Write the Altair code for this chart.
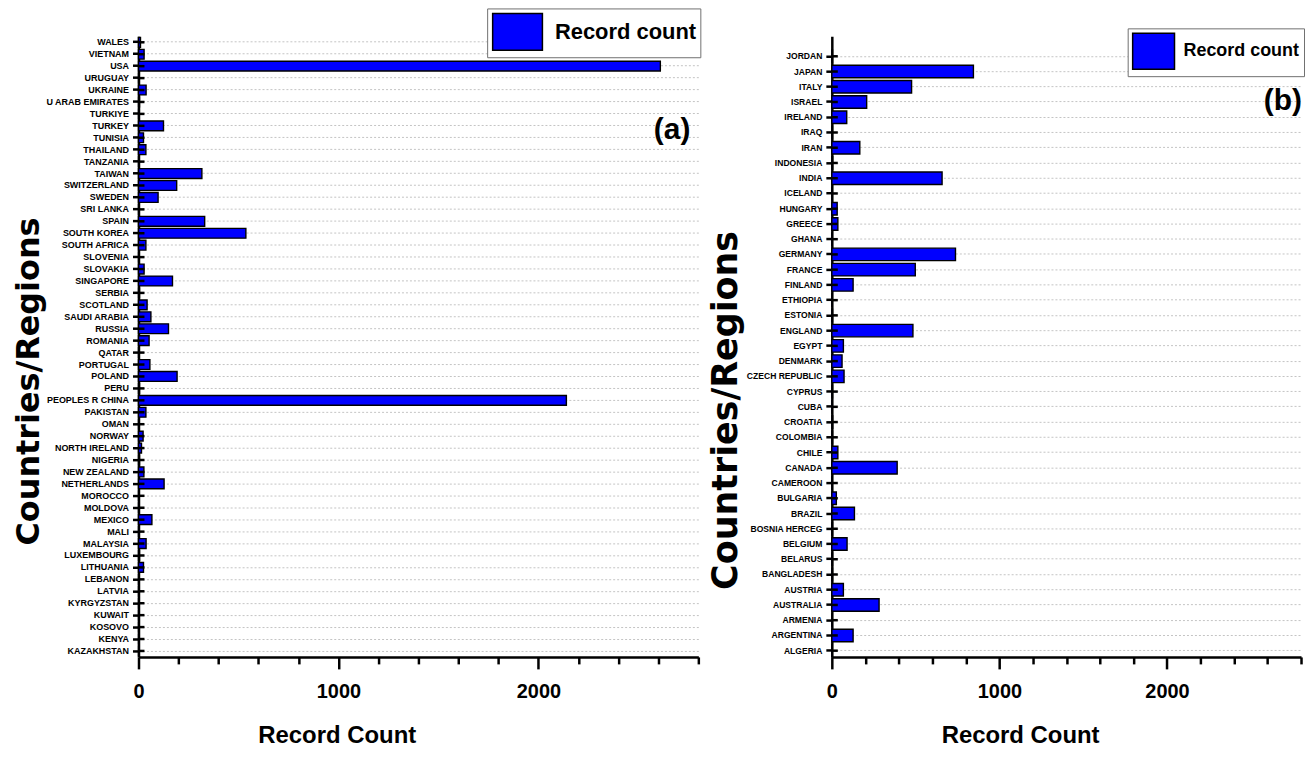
import altair as alt
import pandas as pd

SERIES = "Record count"

COUNTRIES_A = ["WALES", "VIETNAM", "USA", "URUGUAY", "UKRAINE", "U ARAB EMIRATES", "TURKIYE",
               "TURKEY", "TUNISIA", "THAILAND", "TANZANIA", "TAIWAN", "SWITZERLAND", "SWEDEN",
               "SRI LANKA", "SPAIN", "SOUTH KOREA", "SOUTH AFRICA", "SLOVENIA", "SLOVAKIA",
               "SINGAPORE", "SERBIA", "SCOTLAND", "SAUDI ARABIA", "RUSSIA", "ROMANIA", "QATAR",
               "PORTUGAL", "POLAND", "PERU", "PEOPLES R CHINA", "PAKISTAN", "OMAN", "NORWAY",
               "NORTH IRELAND", "NIGERIA", "NEW ZEALAND", "NETHERLANDS", "MOROCCO", "MOLDOVA",
               "MEXICO", "MALI", "MALAYSIA", "LUXEMBOURG", "LITHUANIA", "LEBANON", "LATVIA",
               "KYRGYZSTAN", "KUWAIT", "KOSOVO", "KENYA", "KAZAKHSTAN"]
COUNTS_A = [10, 28, 2610, 2, 38, 5, 3, 125, 25, 37, 2, 317, 191, 98, 3, 331, 537, 37, 4, 28,
            170, 5, 43, 62, 150, 53, 4, 57, 193, 5, 2140, 37, 4, 23, 15, 5, 27, 128, 4, 3,
            67, 3, 38, 5, 25, 4, 4, 2, 3, 2, 3, 3]

COUNTRIES_B = ["JORDAN", "JAPAN", "ITALY", "ISRAEL", "IRELAND", "IRAQ", "IRAN", "INDONESIA",
               "INDIA", "ICELAND", "HUNGARY", "GREECE", "GHANA", "GERMANY", "FRANCE", "FINLAND",
               "ETHIOPIA", "ESTONIA", "ENGLAND", "EGYPT", "DENMARK", "CZECH REPUBLIC", "CYPRUS",
               "CUBA", "CROATIA", "COLOMBIA", "CHILE", "CANADA", "CAMEROON", "BULGARIA", "BRAZIL",
               "BOSNIA HERCEG", "BELGIUM", "BELARUS", "BANGLADESH", "AUSTRIA", "AUSTRALIA",
               "ARMENIA", "ARGENTINA", "ALGERIA"]
COUNTS_B = [4, 845, 476, 208, 89, 4, 167, 5, 658, 3, 32, 36, 3, 738, 498, 127, 3, 4, 484, 69,
            61, 73, 4, 3, 5, 4, 36, 390, 3, 27, 135, 4, 91, 4, 4, 69, 282, 3, 127, 3]

MAJOR_TICKS = [0, 1000, 2000]
MINOR_TICKS = [200, 400, 600, 800, 1200, 1400, 1600, 1800, 2200, 2400, 2600, 2800]
X_DOMAIN = [0, 2800]

SANS = "Liberation Sans, Arial, sans-serif"
WIDE = "DejaVu Sans, Liberation Sans, sans-serif"
BLUE = "#0000ff"
ALL_TICKS = sorted(MAJOR_TICKS + MINOR_TICKS)
IS_MAJOR = "indexof([" + ",".join(str(v) for v in MAJOR_TICKS) + "], datum.value) >= 0"


def panel(countries, counts, width, height, pad_outer, align, ylab_size, ytitle_x, ytitle_y,
          ytitle_size, xtitle_x, leg_x, leg_y, leg_size, leg_path, leg_sym, sym_off, lab_off,
          tag, tag_x, tag_y):
    df = pd.DataFrame({"country": countries, "count": counts, "series": SERIES})
    xs = alt.Scale(domain=X_DOMAIN, nice=False, zero=True)
    ys = alt.Scale(domain=countries, paddingInner=0.18, paddingOuter=pad_outer, align=align)
    x_axis = alt.Axis(
        values=ALL_TICKS, title="Record Count", grid=False, labelFlush=False, format="d",
        labelExpr=IS_MAJOR + " ? datum.label : ''",
        tickSize={"condition": {"test": IS_MAJOR, "value": 12}, "value": 7},
        tickWidth=2.5, tickColor="black", domainWidth=2.5, domainColor="black",
        labelFont=SANS, labelFontSize=20, labelFontWeight="bold", labelColor="black",
        labelPadding=13, titleFont=SANS, titleFontSize=24, titleFontWeight="bold",
        titleColor="black", titleX=xtitle_x, titlePadding=22)
    y_axis = alt.Axis(
        title="Countries/Regions", grid=True, gridDash=[2, 2], gridColor="#c4c4c4",
        gridWidth=1, tickSize=6, tickWidth=2.5, tickColor="black", domainWidth=2.5,
        domainColor="black", labelFont=SANS, labelFontSize=ylab_size,
        labelFontWeight="bold", labelColor="black", labelPadding=4, labelLimit=300,
        titleFont=WIDE, titleFontSize=ytitle_size, titleFontWeight="bold",
        titleColor="black", titleX=ytitle_x, titleY=ytitle_y, titleAngle=270,
        titleBaseline="alphabetic", titleAlign="center")
    base = alt.Chart(df)
    bars = base.mark_bar(stroke="black", strokeWidth=1.4).encode(
        x=alt.X("count:Q", scale=xs, axis=x_axis),
        y=alt.Y("country:N", scale=ys, axis=y_axis),
        color=alt.Color("series:N", scale=alt.Scale(domain=[SERIES], range=[BLUE]),
                        legend=alt.Legend(
                            title=None, orient="none", legendX=leg_x, legendY=leg_y,
                            symbolType=leg_path, symbolSize=leg_sym, symbolOffset=sym_off,
                            symbolStrokeColor="black", symbolStrokeWidth=1.5,
                            symbolFillColor=BLUE, labelFont=SANS, labelFontSize=leg_size,
                            labelFontWeight="bold", labelColor="black", labelLimit=400,
                            strokeColor="#707070", fillColor="white", padding=4,
                            labelOffset=lab_off)),
    )
    inner = base.mark_rule(color="black", strokeWidth=2.5).encode(
        y=alt.Y("country:N", scale=ys, axis=y_axis),
        x=alt.value(0), x2=alt.value(6))
    tagc = alt.Chart(pd.DataFrame({"t": [tag]})).mark_text(
        font=SANS, fontSize=30, fontWeight="bold", align="right", baseline="middle",
        color="black").encode(text="t:N", x=alt.value(tag_x), y=alt.value(tag_y))
    return alt.layer(bars, inner, tagc).properties(width=width, height=height)


left = panel(COUNTRIES_A, COUNTS_A, 562, 623, 0.09, 0.5, 9, -100, 346, 32, 199,
             350, -28, 22, "M-1.35,-1H1.35V1H-1.35Z", 1369, 7, 18, "(a)", 554, 94)
right = panel(COUNTRIES_B, COUNTS_B, 471, 623, 0.45, 1, 8.6, -96, 375, 35, 189,
              297, -8, 18, "M-1.167,-1H1.167V1H-1.167Z", 1296, 3, 11, "(b)", 472, 65)

chart = alt.hconcat(left, right, spacing=6).resolve_scale(
    color="independent", x="independent", y="independent"
).resolve_legend(color="independent").configure_view(stroke="transparent").properties(
    padding={"left": 4, "top": -2, "right": 0, "bottom": 0}, background="white")

chart.save("out.html", embed_options={"renderer": "svg", "actions": False})
